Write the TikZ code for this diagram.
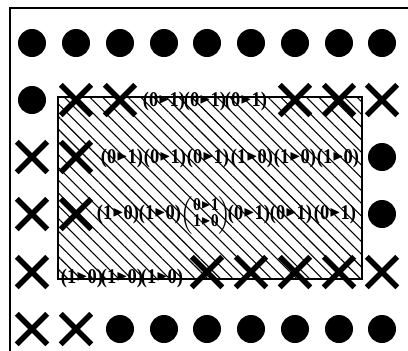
\documentclass[tikz,border=0pt]{standalone}
\usepackage{amssymb}
\usepackage{fontspec}
\setmainfont{Liberation Serif}
\newfontfamily\lblfont[FakeStretch=0.88]{Liberation Serif}
\usetikzlibrary{shapes.misc,patterns.meta}
\newcommand\tri{\raisebox{0.12em}{\scalebox{0.7}{$\blacktriangleright$}}}

\begin{document}
\begin{tikzpicture}[x=1bp,y=-1bp,
  dot/.style={circle,fill=black,inner sep=0pt,minimum size=28bp},
  cross/.style={cross out,draw=black,line width=5.5bp,inner sep=0pt,minimum size=25bp},
  pair/.style={inner sep=0pt,font=\lblfont\fontsize{21}{22}\selectfont\bfseries}]
\useasboundingbox (0,0) rectangle (408,351);
% frame
\draw[line width=1.5bp] (10,351) -- (10,8) -- (408,8);
% hatched region
\fill[pattern={Lines[angle=-45,distance=9bp,line width=1.1bp]}] (58,97) rectangle (362,279);
\draw[line width=1.8bp] (58,97) rectangle (362,279);
% row 1
\node[dot] (d11) at (32,43) {};
\node[dot] (d12) at (76,43) {};
\node[dot] (d13) at (120,43) {};
\node[dot] (d14) at (164,43) {};
\node[dot] (d15) at (207,43) {};
\node[dot] (d16) at (251,43) {};
\node[dot] (d17) at (295,43) {};
\node[dot] (d18) at (339,43) {};
\node[dot] (d19) at (382,43) {};
% row 2
\node[dot] (d21) at (32,100) {};
\node[cross] (x22) at (76,100) {};
\node[cross] (x23) at (120,100) {};
\node[pair] (p24) at (164,101) {(0\tri1)};
\node[pair] (p25) at (205,101) {(0\tri1)};
\node[pair] (p26) at (246,101) {(0\tri1)};
\node[cross] (x27) at (295,100) {};
\node[cross] (x28) at (339,100) {};
\node[cross] (x29) at (382,100) {};
% row 3
\node[cross] (x31) at (32,157) {};
\node[cross] (x32) at (76,157) {};
\node[pair] (p33) at (122,158) {(0\tri1)};
\node[pair] (p34) at (165,158) {(0\tri1)};
\node[pair] (p35) at (208,158) {(0\tri1)};
\node[pair] (p36) at (252,158) {(1\tri0)};
\node[pair] (p37) at (295,158) {(1\tri0)};
\node[pair] (p38) at (338,158) {(1\tri0)};
\node[dot] (d39) at (382,157) {};
% row 4
\node[cross] (x41) at (32,214) {};
\node[cross] (x42) at (76,214) {};
\node[pair] (p43) at (118,214) {(1\tri0)};
\node[pair] (p44) at (160,214) {(1\tri0)};
\node[pair] (p45) at (206,215) {$\left(\vcenter{\hbox{\lblfont\fontsize{18}{15}\selectfont\bfseries
  \begin{tabular}{@{}c@{}}0\tri1\\1\tri0\end{tabular}}}\right)$};
\node[pair] (p46) at (249,214) {(0\tri1)};
\node[pair] (p47) at (291,214) {(0\tri1)};
\node[pair] (p48) at (335,214) {(0\tri1)};
\node[dot] (d49) at (382,214) {};
% row 5
\node[cross] (x51) at (32,272) {};
\node[pair] (p52) at (82,278) {(1\tri0)};
\node[pair] (p53) at (122,278) {(1\tri0)};
\node[pair] (p54) at (162,278) {(1\tri0)};
\node[cross] (x55) at (207,272) {};
\node[cross] (x56) at (251,272) {};
\node[cross] (x57) at (295,272) {};
\node[cross] (x58) at (339,272) {};
\node[cross] (x59) at (382,272) {};
% row 6
\node[cross] (x61) at (32,329) {};
\node[cross] (x62) at (76,329) {};
\node[dot] (d63) at (120,329) {};
\node[dot] (d64) at (164,329) {};
\node[dot] (d65) at (207,329) {};
\node[dot] (d66) at (251,329) {};
\node[dot] (d67) at (295,329) {};
\node[dot] (d68) at (339,329) {};
\node[dot] (d69) at (382,329) {};
\end{tikzpicture}
\end{document}
